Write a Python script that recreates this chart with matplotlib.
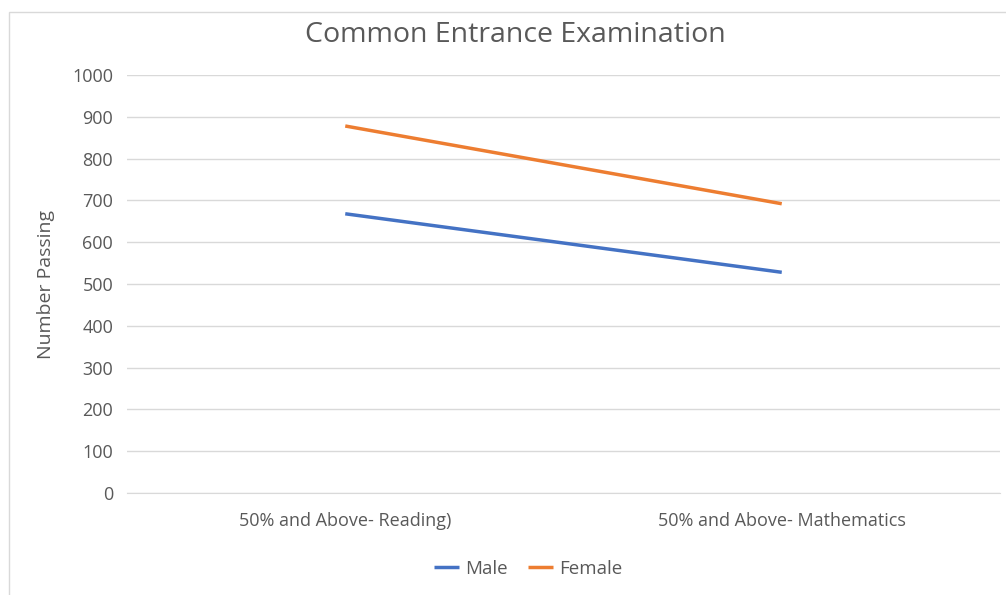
import matplotlib.pyplot as plt
from matplotlib.patches import Rectangle

# Data
categories = ['50% and Above- Reading)', '50% and Above- Mathematics']
male = [668, 528]
female = [878, 692]
y_ticks = list(range(0, 1001, 100))

plt.rcParams['font.family'] = ['Open Sans', 'DejaVu Sans']
text_color = '#595959'

fig = plt.figure(figsize=(10.06, 5.95), dpi=100)
ax = fig.add_axes([127 / 1006, 1 - 493 / 595, (1000 - 127) / 1006, (493 - 75) / 595])

# Outer chart border (cropped on right/bottom like the screenshot)
fig.patches.append(Rectangle((9 / 1006, -0.1), 1.2, 1 - 12 / 595 + 0.1,
                             transform=fig.transFigure, fill=False,
                             edgecolor='#d9d9d9', linewidth=1.0))

x = [0, 1]
ax.plot(x, male, color='#4472C4', linewidth=2.5, label='Male', solid_capstyle='butt')
ax.plot(x, female, color='#ED7D31', linewidth=2.5, label='Female', solid_capstyle='butt')

ax.set_xlim(-0.5, 1.5)
ax.set_ylim(0, 1000)
ax.set_yticks(y_ticks)
ax.set_xticks(x)
ax.set_xticklabels(categories)
ax.grid(axis='y', color='#d9d9d9', linewidth=1.0)
ax.set_axisbelow(True)
for side in ['top', 'right', 'left']:
    ax.spines[side].set_visible(False)
ax.spines['bottom'].set_color('#d9d9d9')
ax.tick_params(axis='both', length=0, labelsize=13, colors=text_color)
ax.tick_params(axis='y', pad=10)
ax.tick_params(axis='x', pad=14)

ax.set_ylabel('Number Passing', fontsize=14, color=text_color, labelpad=12)
fig.text(515 / 1006, 1 - 35 / 595, 'Common Entrance Examination', ha='center', va='center',
         fontsize=20.5, color=text_color)

fig.legend(loc='center', bbox_to_anchor=(528 / 1006, 1 - 569 / 595), ncol=2, frameon=False,
           fontsize=13.5, labelcolor=text_color, handlelength=1.35, handletextpad=0.3,
           columnspacing=1.1)

fig.savefig('out.png', dpi=100)
